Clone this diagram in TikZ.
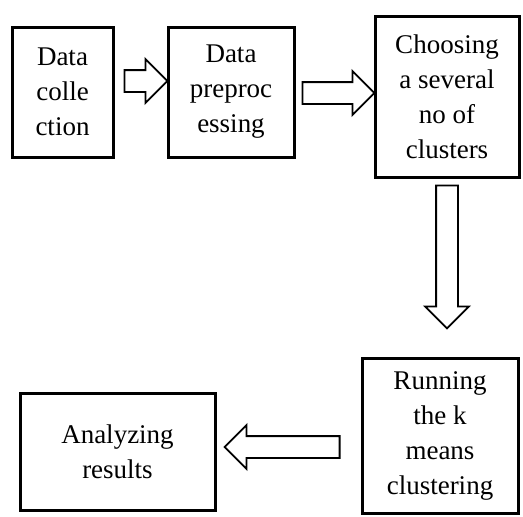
\documentclass[tikz,border=0pt]{standalone}
\usepackage{fontspec}
\setmainfont{Liberation Serif}
\usetikzlibrary{shapes.arrows,calc}
\tikzset{
  bx/.style={rectangle, draw, line width=3pt, align=center, inner sep=0pt,
    font=\fontsize{27pt}{35pt}\selectfont},
  ba/.style={to path={let \p1=(\tikztostart), \p2=(\tikztotarget),
      \n1={atan2(\y2-\y1,\x2-\x1)}, \n2={veclen(\x2-\x1,\y2-\y1)} in
      (\tikztostart) node[single arrow, draw, line width=1.8pt, inner xsep=0pt,
        inner ysep=10pt, single arrow head extend=11pt, anchor=tail,
        minimum height=\n2, rotate=\n1] {}}}
}
\begin{document}
\begin{tikzpicture}[x=1pt, y=-1pt]
  \useasboundingbox (0,0) rectangle (523,517);
  \node[bx, minimum width=101pt, minimum height=130pt] (dc) at (62.5,92)
    {Data\\colle\\ction};
  \node[bx, minimum width=126pt, minimum height=130pt] (dp) at (231,92)
    {Data\\preproc\\essing};
  \node[bx, minimum width=144pt, minimum height=161pt] (cc) at (447,96.5)
    {Choosing\\a several\\no of\\clusters};
  \node[bx, minimum width=156pt, minimum height=155pt] (rk) at (440,435.5)
    {Running\\the k\\means\\clustering};
  \node[bx, minimum width=195pt, minimum height=117pt] (ar) at (117.5,451.5)
    {Analyzing\\results};
  \draw ([shift={(9,-11)}]dc.east) to[ba] ([shift={(0,-11)}]dp.west);
  \draw ([shift={(6,1)}]dp.east) to[ba] ([shift={(0,-3.5)}]cc.west);
  \draw ([shift={(0,6)}]cc.south) to[ba] ([shift={(7,-29)}]rk.north);
  \draw ([shift={(-20,11.5)}]rk.west) to[ba] ([shift={(9,-4.5)}]ar.east);
\end{tikzpicture}
\end{document}
